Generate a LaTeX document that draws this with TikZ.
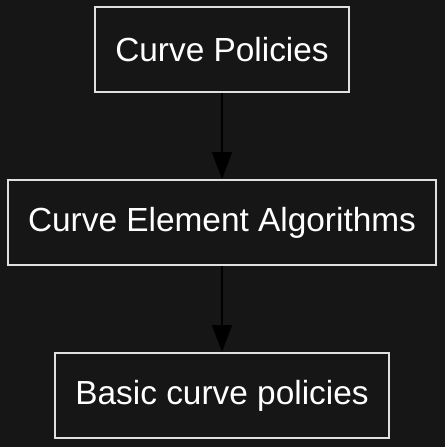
\documentclass[tikz,border=0pt]{standalone}
\usepackage{fontspec}
\setmainfont{Liberation Sans}
\usepackage{xcolor}
\usetikzlibrary{positioning,arrows.meta}
\definecolor{bgdark}{HTML}{161616}
\definecolor{boxline}{HTML}{E0E0E0}
\tikzset{
	flowbox/.style={draw=boxline, line width=2pt, fill=bgdark, text=white,
		font=\fontsize{33.4}{38}\selectfont, minimum height=85pt, inner xsep=20.5pt},
	flowarrow/.style={draw=black, line width=2pt, -{Triangle[length=27pt,width=20pt]}}
}

\begin{document}
\begin{tikzpicture}[node distance=86pt]
		% background
		\fill[bgdark] (0,0) rectangle (445pt,-447pt);
		\useasboundingbox (0,0) rectangle (445pt,-447pt);
		% boxes
		\node[flowbox] (policies) at (222pt,-49.5pt) {Curve Policies};
		\node[flowbox, below=of policies] (algorithms) {Curve Element Algorithms};
		\node[flowbox, below=of algorithms] (basic) {Basic curve policies};
		% arrows
		\draw[flowarrow] (policies) -- (algorithms);
		\draw[flowarrow] (algorithms) -- (basic);
	\end{tikzpicture}
\end{document}
